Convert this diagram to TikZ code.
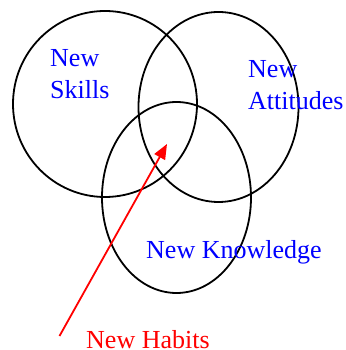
\documentclass[tikz,border=0pt]{standalone}
\usepackage{fontspec}
\setmainfont{Liberation Serif}
\usetikzlibrary{arrows.meta}
\begin{document}
\begin{tikzpicture}[x=1pt,y=1pt,
  ring/.style={draw=black,line width=1.8pt},
  lbl/.style={text=blue,font=\fontsize{26}{32}\selectfont,inner sep=0pt,anchor=base west,align=left},
  habit/.style={text=red,font=\fontsize{26}{32}\selectfont,inner sep=0pt,anchor=base west},
  habitarrow/.style={draw=red,line width=1.8pt,-{Triangle[length=15pt,width=12pt]}}]
\useasboundingbox (0,0) rectangle (345,350);
\draw[ring] (105,246) ellipse [x radius=92pt, y radius=93pt];
\draw[ring] (218.5,243) ellipse [x radius=80pt, y radius=95pt];
\draw[ring] (176.5,152.5) ellipse [x radius=74.5pt, y radius=95.5pt];
\node[lbl] (skills) at (50,251) {New\\Skills};
\node[lbl] (attitudes) at (248,240) {New\\Attitudes};
\node[lbl] (knowledge) at (146,91) {New Knowledge};
\node[habit] (habits) at (86,1.5) {New Habits};
\coordinate (hstart) at (59.5,14);
\coordinate (htip) at (167,206);
\draw[habitarrow] (hstart) -- (htip);
\end{tikzpicture}
\end{document}
